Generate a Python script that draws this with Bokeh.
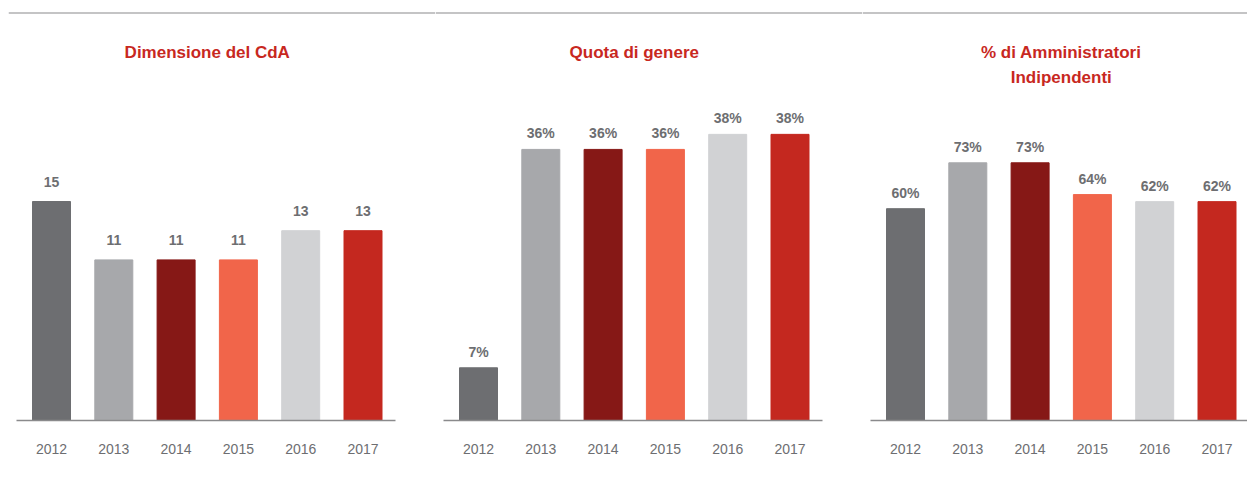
from bokeh.plotting import figure
from bokeh.layouts import row
from bokeh.models import ColumnDataSource, Range1d, FixedTicker, Span
from bokeh.core.properties import value
from bokeh.embed import file_html
from bokeh.resources import INLINE

years = ["2012", "2013", "2014", "2015", "2016", "2017"]
colors = ["#6d6e71", "#a7a8ab", "#861816", "#f1654a", "#d1d2d4", "#c4281f"]

cda_values = [15, 11, 11, 11, 13, 13]
genere_values = [7, 36, 36, 36, 38, 38]
indip_values = [60, 73, 73, 64, 62, 62]

titles = [["Dimensione del CdA"], ["Quota di genere"], ["% di Amministratori", "Indipendenti"]]
label_fmt = ["{}", "{}%", "{}%"]

FONT = "Liberation Sans"
TITLE_RED = "#c8281f"
GREY_TXT = "#6d6e71"

STEP = 62.3          # px per category
FRAME_H = 408        # frame height in px
px_per_unit = [14.6, 7.53, 3.53]
label_gap = [20, 16, 16]
widths = [427, 427, 385]
left_pad = [8, 0, 0]


def make_panel(k, vals):
    w = widths[k]
    x0 = -43 / STEP
    x1 = x0 + w / STEP
    y_end = FRAME_H / px_per_unit[k]
    p = figure(width=w + left_pad[k], height=482, output_backend="svg", toolbar_location=None,
               x_range=Range1d(x0, x1), y_range=Range1d(0, y_end),
               min_border_left=left_pad[k], min_border_right=0, min_border_top=12,
               min_border_bottom=62)
    p.outline_line_color = None
    p.grid.visible = False
    p.yaxis.visible = False
    p.background_fill_color = None
    p.border_fill_color = None

    idx = list(range(len(years)))
    src = ColumnDataSource(dict(x=idx, top=vals, color=colors,
                                lab=[label_fmt[k].format(v) for v in vals]))
    p.vbar(x="x", top="top", bottom=0, width=38 / STEP, color="color", source=src)
    p.text(x="x", y="top", text="lab", source=src, y_offset=-label_gap[k],
           text_align="center", text_baseline="middle", text_color=GREY_TXT,
           text_font=value(FONT), text_font_style="bold", text_font_size="14px")

    ax = p.xaxis[0]
    ax.ticker = FixedTicker(ticks=idx)
    ax.major_label_overrides = {i: y for i, y in zip(idx, years)}
    ax.bounds = (-0.56, 5.52)
    ax.axis_line_color = "#8a8a8c"
    ax.axis_line_width = 1.5
    ax.major_tick_line_color = None
    ax.minor_tick_line_color = None
    ax.major_label_standoff = 17
    ax.major_label_text_color = GREY_TXT
    ax.major_label_text_font = FONT
    ax.major_label_text_font_size = "14px"

    lines = titles[k]
    tsrc = ColumnDataSource(dict(x=[2.5] * len(lines), y=[y_end] * len(lines), t=lines,
                                 off=[40 + 25 * j for j in range(len(lines))]))
    p.text(x="x", y="y", text="t", y_offset="off", source=tsrc,
           text_align="center", text_baseline="middle", text_color=TITLE_RED,
           text_font=value(FONT), text_font_style="bold", text_font_size="17px")

    p.add_layout(Span(location=y_end, dimension="width", line_color="#8a8a8c", line_width=2))
    return p


panels = [make_panel(0, cda_values), make_panel(1, genere_values), make_panel(2, indip_values)]
layout = row(*panels, spacing=0)

open("out.html", "w").write(file_html(layout, INLINE))
